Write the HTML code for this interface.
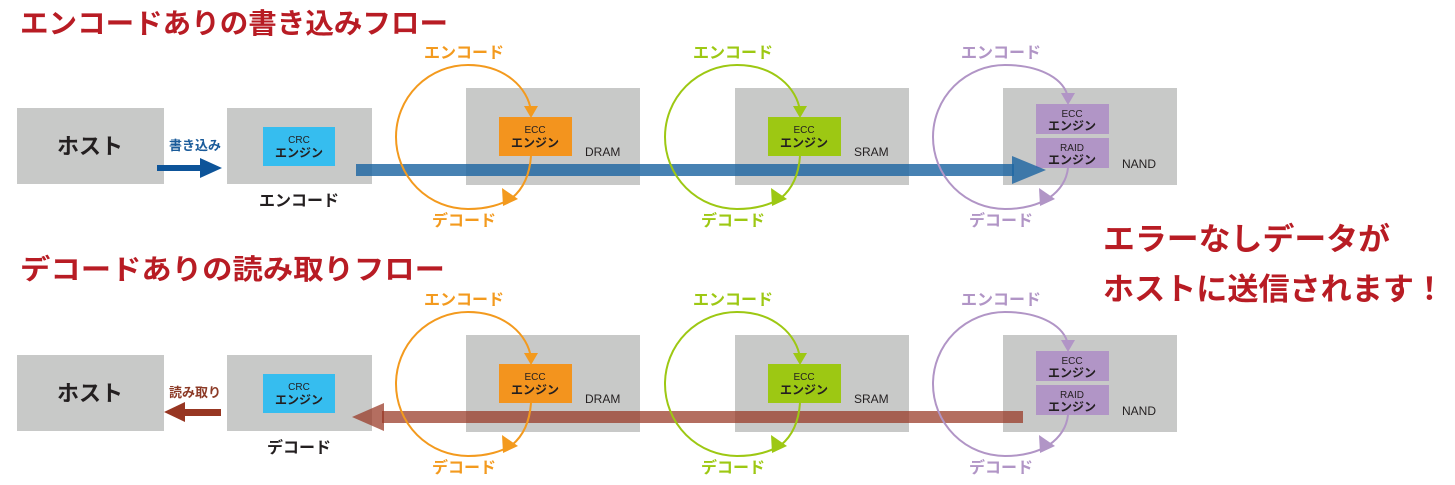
<!DOCTYPE html>
<html><head><meta charset="utf-8"><style>
html,body{margin:0;padding:0;background:#fff;}
svg{display:block;font-family:"Liberation Sans","Noto Sans CJK JP",sans-serif;}
</style></head><body>
<svg width="1455" height="485" viewBox="0 0 1455 485" xmlns="http://www.w3.org/2000/svg">
<!-- titles -->
<text x="20" y="33" font-size="28" font-weight="bold" fill="#b81c24" textLength="428" lengthAdjust="spacingAndGlyphs">エンコードありの書き込みフロー</text>
<text x="20" y="279" font-size="28" font-weight="bold" fill="#b81c24" textLength="425" lengthAdjust="spacingAndGlyphs">デコードありの読み取りフロー</text>
<text x="1103" y="250" font-size="31" font-weight="bold" fill="#b81c24" textLength="287" lengthAdjust="spacingAndGlyphs">エラーなしデータが</text>
<text x="1103" y="300" font-size="31" font-weight="bold" fill="#b81c24" textLength="342" lengthAdjust="spacingAndGlyphs">ホストに送信されます！</text>

<!-- ROW 1 -->
<g>
<rect x="17" y="108" width="147" height="76" fill="#c8c9c8"/>
<text x="90" y="154" font-size="22" font-weight="bold" fill="#231f20" text-anchor="middle">ホスト</text>
<text x="195" y="150" font-size="13" font-weight="bold" fill="#1a5b9a" text-anchor="middle">書き込み</text>
<rect x="157" y="165" width="45" height="6" fill="#0d5499"/>
<polygon points="200,158 222,168 200,178" fill="#0d5499"/>
<rect x="227" y="108" width="145" height="76" fill="#c8c9c8"/>
<rect x="263" y="127" width="72" height="39" fill="#36bdef"/>
<text x="299" y="143" font-size="10" fill="#231f20" text-anchor="middle">CRC</text>
<text x="299" y="157" font-size="12" font-weight="bold" fill="#231f20" text-anchor="middle">エンジン</text>
<text x="299" y="206" font-size="16" font-weight="bold" fill="#231f20" text-anchor="middle">エンコード</text>

<rect x="466" y="88" width="174" height="97" fill="#c8c9c8"/>
<rect x="499" y="117" width="73" height="39" fill="#f3941e"/>
<text x="535" y="133" font-size="10" fill="#231f20" text-anchor="middle">ECC</text>
<text x="535" y="147" font-size="12" font-weight="bold" fill="#231f20" text-anchor="middle">エンジン</text>
<text x="585" y="156" font-size="12" fill="#231f20">DRAM</text>

<rect x="735" y="88" width="174" height="97" fill="#c8c9c8"/>
<rect x="768" y="117" width="73" height="39" fill="#9dc813"/>
<text x="804" y="133" font-size="10" fill="#231f20" text-anchor="middle">ECC</text>
<text x="804" y="147" font-size="12" font-weight="bold" fill="#231f20" text-anchor="middle">エンジン</text>
<text x="854" y="156" font-size="12" fill="#231f20">SRAM</text>

<rect x="1003" y="88" width="174" height="97" fill="#c8c9c8"/>
<rect x="1036" y="104" width="73" height="30" fill="#b195c6"/>
<rect x="1036" y="138" width="73" height="30" fill="#b195c6"/>
<text x="1072" y="117" font-size="10" fill="#231f20" text-anchor="middle">ECC</text>
<text x="1072" y="130" font-size="12" font-weight="bold" fill="#231f20" text-anchor="middle">エンジン</text>
<text x="1072" y="151" font-size="10" fill="#231f20" text-anchor="middle">RAID</text>
<text x="1072" y="164" font-size="12" font-weight="bold" fill="#231f20" text-anchor="middle">エンジン</text>
<text x="1122" y="168" font-size="12" fill="#231f20">NAND</text>

<rect x="356" y="164" width="658" height="12" fill="#1e66a2" fill-opacity="0.82"/>
<polygon points="1012,156 1046,170 1012,184" fill="#1e66a2" fill-opacity="0.82"/>
</g>

<!-- ROW 2 -->
<g transform="translate(0,247)">
<rect x="17" y="108" width="147" height="76" fill="#c8c9c8"/>
<text x="90" y="154" font-size="22" font-weight="bold" fill="#231f20" text-anchor="middle">ホスト</text>
<text x="195" y="150" font-size="13" font-weight="bold" fill="#8c3a26" text-anchor="middle">読み取り</text>
<rect x="183" y="162" width="38" height="7" fill="#973622"/>
<polygon points="185,155 164,165 185,175" fill="#973622"/>
<rect x="227" y="108" width="145" height="76" fill="#c8c9c8"/>
<rect x="263" y="127" width="72" height="39" fill="#36bdef"/>
<text x="299" y="143" font-size="10" fill="#231f20" text-anchor="middle">CRC</text>
<text x="299" y="157" font-size="12" font-weight="bold" fill="#231f20" text-anchor="middle">エンジン</text>
<text x="299" y="206" font-size="16" font-weight="bold" fill="#231f20" text-anchor="middle">デコード</text>

<rect x="466" y="88" width="174" height="97" fill="#c8c9c8"/>
<rect x="499" y="117" width="73" height="39" fill="#f3941e"/>
<text x="535" y="133" font-size="10" fill="#231f20" text-anchor="middle">ECC</text>
<text x="535" y="147" font-size="12" font-weight="bold" fill="#231f20" text-anchor="middle">エンジン</text>
<text x="585" y="156" font-size="12" fill="#231f20">DRAM</text>

<rect x="735" y="88" width="174" height="97" fill="#c8c9c8"/>
<rect x="768" y="117" width="73" height="39" fill="#9dc813"/>
<text x="804" y="133" font-size="10" fill="#231f20" text-anchor="middle">ECC</text>
<text x="804" y="147" font-size="12" font-weight="bold" fill="#231f20" text-anchor="middle">エンジン</text>
<text x="854" y="156" font-size="12" fill="#231f20">SRAM</text>

<rect x="1003" y="88" width="174" height="97" fill="#c8c9c8"/>
<rect x="1036" y="104" width="73" height="30" fill="#b195c6"/>
<rect x="1036" y="138" width="73" height="30" fill="#b195c6"/>
<text x="1072" y="117" font-size="10" fill="#231f20" text-anchor="middle">ECC</text>
<text x="1072" y="130" font-size="12" font-weight="bold" fill="#231f20" text-anchor="middle">エンジン</text>
<text x="1072" y="151" font-size="10" fill="#231f20" text-anchor="middle">RAID</text>
<text x="1072" y="164" font-size="12" font-weight="bold" fill="#231f20" text-anchor="middle">エンジン</text>
<text x="1122" y="168" font-size="12" fill="#231f20">NAND</text>

<rect x="382" y="164" width="641" height="12" fill="#973622" fill-opacity="0.72"/>
<polygon points="384,156 352,170 384,184" fill="#973622" fill-opacity="0.72"/>
</g>

<!-- circles -->
<g fill="none" stroke-width="2">
  <g stroke="#f39a1e">
    <path d="M531,111 C528,88 505,65 468,65 A72 72 0 0 0 468,209 C488,209 502,204 510,199"/>
    <path d="M531,156 Q529,184 512,198"/>
  </g>
  <g stroke="#9dc813" transform="translate(269,0)">
    <path d="M531,111 C528,88 505,65 468,65 A72 72 0 0 0 468,209 C488,209 502,204 510,199"/>
    <path d="M531,156 Q529,184 512,198"/>
  </g>
  <g stroke="#b195c6" transform="translate(537,0)">
    <path d="M531,98 C528,80 505,65 468,65 A72 72 0 0 0 468,209 C488,209 502,204 510,199"/>
    <path d="M531,168 Q529,186 512,198"/>
  </g>
  <g stroke="#f39a1e" transform="translate(0,247)">
    <path d="M531,111 C528,88 505,65 468,65 A72 72 0 0 0 468,209 C488,209 502,204 510,199"/>
    <path d="M531,156 Q529,184 512,198"/>
  </g>
  <g stroke="#9dc813" transform="translate(269,247)">
    <path d="M531,111 C528,88 505,65 468,65 A72 72 0 0 0 468,209 C488,209 502,204 510,199"/>
    <path d="M531,156 Q529,184 512,198"/>
  </g>
  <g stroke="#b195c6" transform="translate(537,247)">
    <path d="M531,98 C528,80 505,65 468,65 A72 72 0 0 0 468,209 C488,209 502,204 510,199"/>
    <path d="M531,168 Q529,186 512,198"/>
  </g>
</g>
<!-- arrowheads -->
<g>
  <g fill="#f39a1e"><polygon points="524,106 538,106 531,118"/><polygon points="502,188 518,199 503,206"/><polygon points="524,353 538,353 531,365"/><polygon points="502,435 518,446 503,453"/></g>
  <g fill="#9dc813" transform="translate(269,0)"><polygon points="524,106 538,106 531,118"/><polygon points="502,188 518,199 503,206"/><polygon points="524,353 538,353 531,365"/><polygon points="502,435 518,446 503,453"/></g>
  <g fill="#b195c6" transform="translate(537,0)"><polygon points="524,93 538,93 531,105"/><polygon points="502,188 518,199 503,206"/><polygon points="524,340 538,340 531,352"/><polygon points="502,435 518,446 503,453"/></g>
</g>
<!-- circle labels -->
<g font-size="16" font-weight="bold" text-anchor="middle">
  <text x="464" y="58" fill="#f39a1e">エンコード</text>
  <text x="464" y="226" fill="#f39a1e">デコード</text>
  <text x="733" y="58" fill="#9dc813">エンコード</text>
  <text x="733" y="226" fill="#9dc813">デコード</text>
  <text x="1001" y="58" fill="#b195c6">エンコード</text>
  <text x="1001" y="226" fill="#b195c6">デコード</text>
  <text x="464" y="305" fill="#f39a1e">エンコード</text>
  <text x="464" y="473" fill="#f39a1e">デコード</text>
  <text x="733" y="305" fill="#9dc813">エンコード</text>
  <text x="733" y="473" fill="#9dc813">デコード</text>
  <text x="1001" y="305" fill="#b195c6">エンコード</text>
  <text x="1001" y="473" fill="#b195c6">デコード</text>
</g>
</svg>
</body></html>
